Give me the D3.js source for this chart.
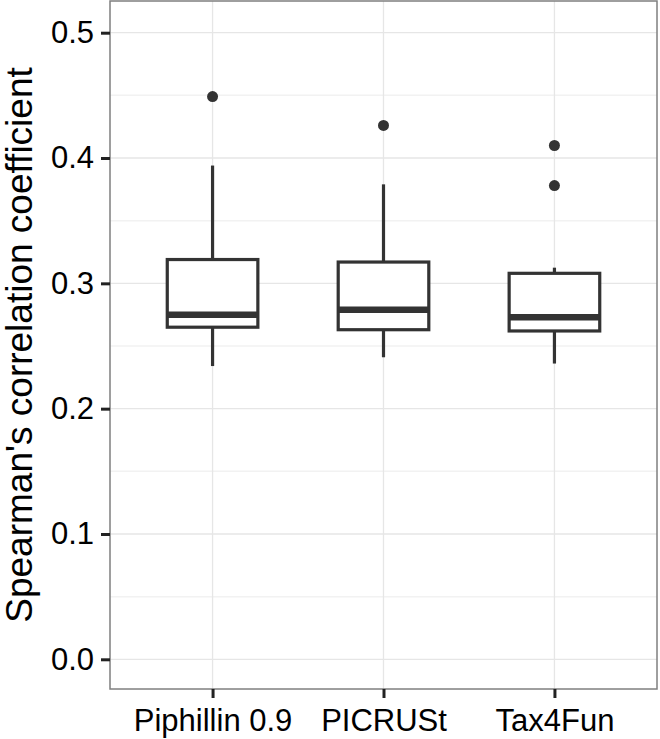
<!DOCTYPE html>
<html>
<head>
<meta charset="utf-8">
<script src="https://cdn.jsdelivr.net/npm/d3@7"></script>
<style>
	body { margin: 0; background: #fff; }
	text { font-family: "Liberation Sans", Arial, Helvetica, sans-serif; }
</style>
</head>
<body>
<svg id="graph" width="660" height="739"></svg>
<script>
// data
var categories = ["Piphillin 0.9", "PICRUSt", "Tax4Fun"];
var whiskerLow = [0.234, 0.241, 0.236];
var q1 = [0.265, 0.263, 0.262];
var medians = [0.275, 0.279, 0.273];
var q3 = [0.319, 0.317, 0.308];
var whiskerHigh = [0.394, 0.379, 0.3125];
var outliers = [[0.449], [0.426], [0.410, 0.378]];
var yTicks = [0, 0.1, 0.2, 0.3, 0.4, 0.5];
var yMinor = [0.05, 0.15, 0.25, 0.35, 0.45];
var yDomain = [-0.0237, 0.5253];

var margin = {top: 1, left: 110, right: 3, bottom: 50},
	width = 660 - margin.left - margin.right,
	height = 739 - margin.top - margin.bottom,
	graph = d3.select("#graph"),
	g = graph.append("g").attr("transform", "translate(" + margin.left + "," + margin.top + ")");

var x = d3.scalePoint().domain(categories).range([0, width]).padding(0.6),
	y = d3.scaleLinear().domain(yDomain).range([height, 0]);

var boxW = x.step() * 0.53;
var ink = "#333333";

// grid
g.append("g").selectAll("line.minor")
	.data(yMinor)
	.enter().append("line")
		.attr("x1", 0).attr("x2", width)
		.attr("y1", function(d) { return y(d); })
		.attr("y2", function(d) { return y(d); })
		.attr("stroke", "#f2f2f2").attr("stroke-width", 1.5);

g.append("g").selectAll("line.major")
	.data(yTicks)
	.enter().append("line")
		.attr("x1", 0).attr("x2", width)
		.attr("y1", function(d) { return y(d); })
		.attr("y2", function(d) { return y(d); })
		.attr("stroke", "#e6e6e6").attr("stroke-width", 1.3);

g.append("g").selectAll("line")
	.data(categories)
	.enter().append("line")
		.attr("x1", function(d) { return x(d); })
		.attr("x2", function(d) { return x(d); })
		.attr("y1", 0).attr("y2", height)
		.attr("stroke", "#e6e6e6").attr("stroke-width", 1.3);

// boxes
var boxes = g.append("g").selectAll("g")
	.data(categories)
	.enter().append("g");

boxes.append("line")
	.attr("x1", function(d) { return x(d); })
	.attr("x2", function(d) { return x(d); })
	.attr("y1", function(d, i) { return y(whiskerHigh[i]); })
	.attr("y2", function(d, i) { return y(q3[i]); })
	.attr("stroke", ink).attr("stroke-width", 3.2);

boxes.append("line")
	.attr("x1", function(d) { return x(d); })
	.attr("x2", function(d) { return x(d); })
	.attr("y1", function(d, i) { return y(q1[i]); })
	.attr("y2", function(d, i) { return y(whiskerLow[i]); })
	.attr("stroke", ink).attr("stroke-width", 3.2);

boxes.append("rect")
	.attr("x", function(d) { return x(d) - boxW / 2; })
	.attr("width", boxW)
	.attr("y", function(d, i) { return y(q3[i]); })
	.attr("height", function(d, i) { return y(q1[i]) - y(q3[i]); })
	.attr("fill", "#fff")
	.attr("stroke", ink).attr("stroke-width", 3.2);

boxes.append("line")
	.attr("x1", function(d) { return x(d) - boxW / 2; })
	.attr("x2", function(d) { return x(d) + boxW / 2; })
	.attr("y1", function(d, i) { return y(medians[i]); })
	.attr("y2", function(d, i) { return y(medians[i]); })
	.attr("stroke", ink).attr("stroke-width", 6.5);

boxes.selectAll("circle")
	.data(function(d, i) { return outliers[i].map(function(v) { return {c: d, v: v}; }); })
	.enter().append("circle")
		.attr("cx", function(d) { return x(d.c); })
		.attr("cy", function(d) { return y(d.v); })
		.attr("r", 5.5)
		.attr("fill", ink);

// panel border
g.append("rect")
	.attr("x", 0).attr("y", 0)
	.attr("width", width).attr("height", height)
	.attr("fill", "none")
	.attr("stroke", "#7f7f7f").attr("stroke-width", 1.5);

// axes
var yAxis = d3.axisLeft(y).tickValues(yTicks).tickFormat(d3.format(".1f")).tickSize(9).tickPadding(7),
	xAxis = d3.axisBottom(x).tickSize(9).tickPadding(11);

var ya = g.append("g").attr("class", "axis yaxis").call(yAxis);
var xa = g.append("g").attr("class", "axis xaxis")
	.attr("transform", "translate(0," + height + ")")
	.call(xAxis);

[ya, xa].forEach(function(a) {
	a.select(".domain").remove();
	a.selectAll(".tick line").attr("stroke", "#222").attr("stroke-width", 3);
	a.selectAll(".tick text")
		.attr("fill", "#000")
		.style("font-size", "31px")
		.style("font-family", "'Liberation Sans', Arial, Helvetica, sans-serif");
});

graph.append("text")
	.attr("transform", "translate(32," + (margin.top + height / 2) + ") rotate(-90)")
	.attr("text-anchor", "middle")
	.style("font-size", "37px")
	.attr("fill", "#000")
	.text("Spearman's correlation coefficient");
</script>
</body>
</html>
